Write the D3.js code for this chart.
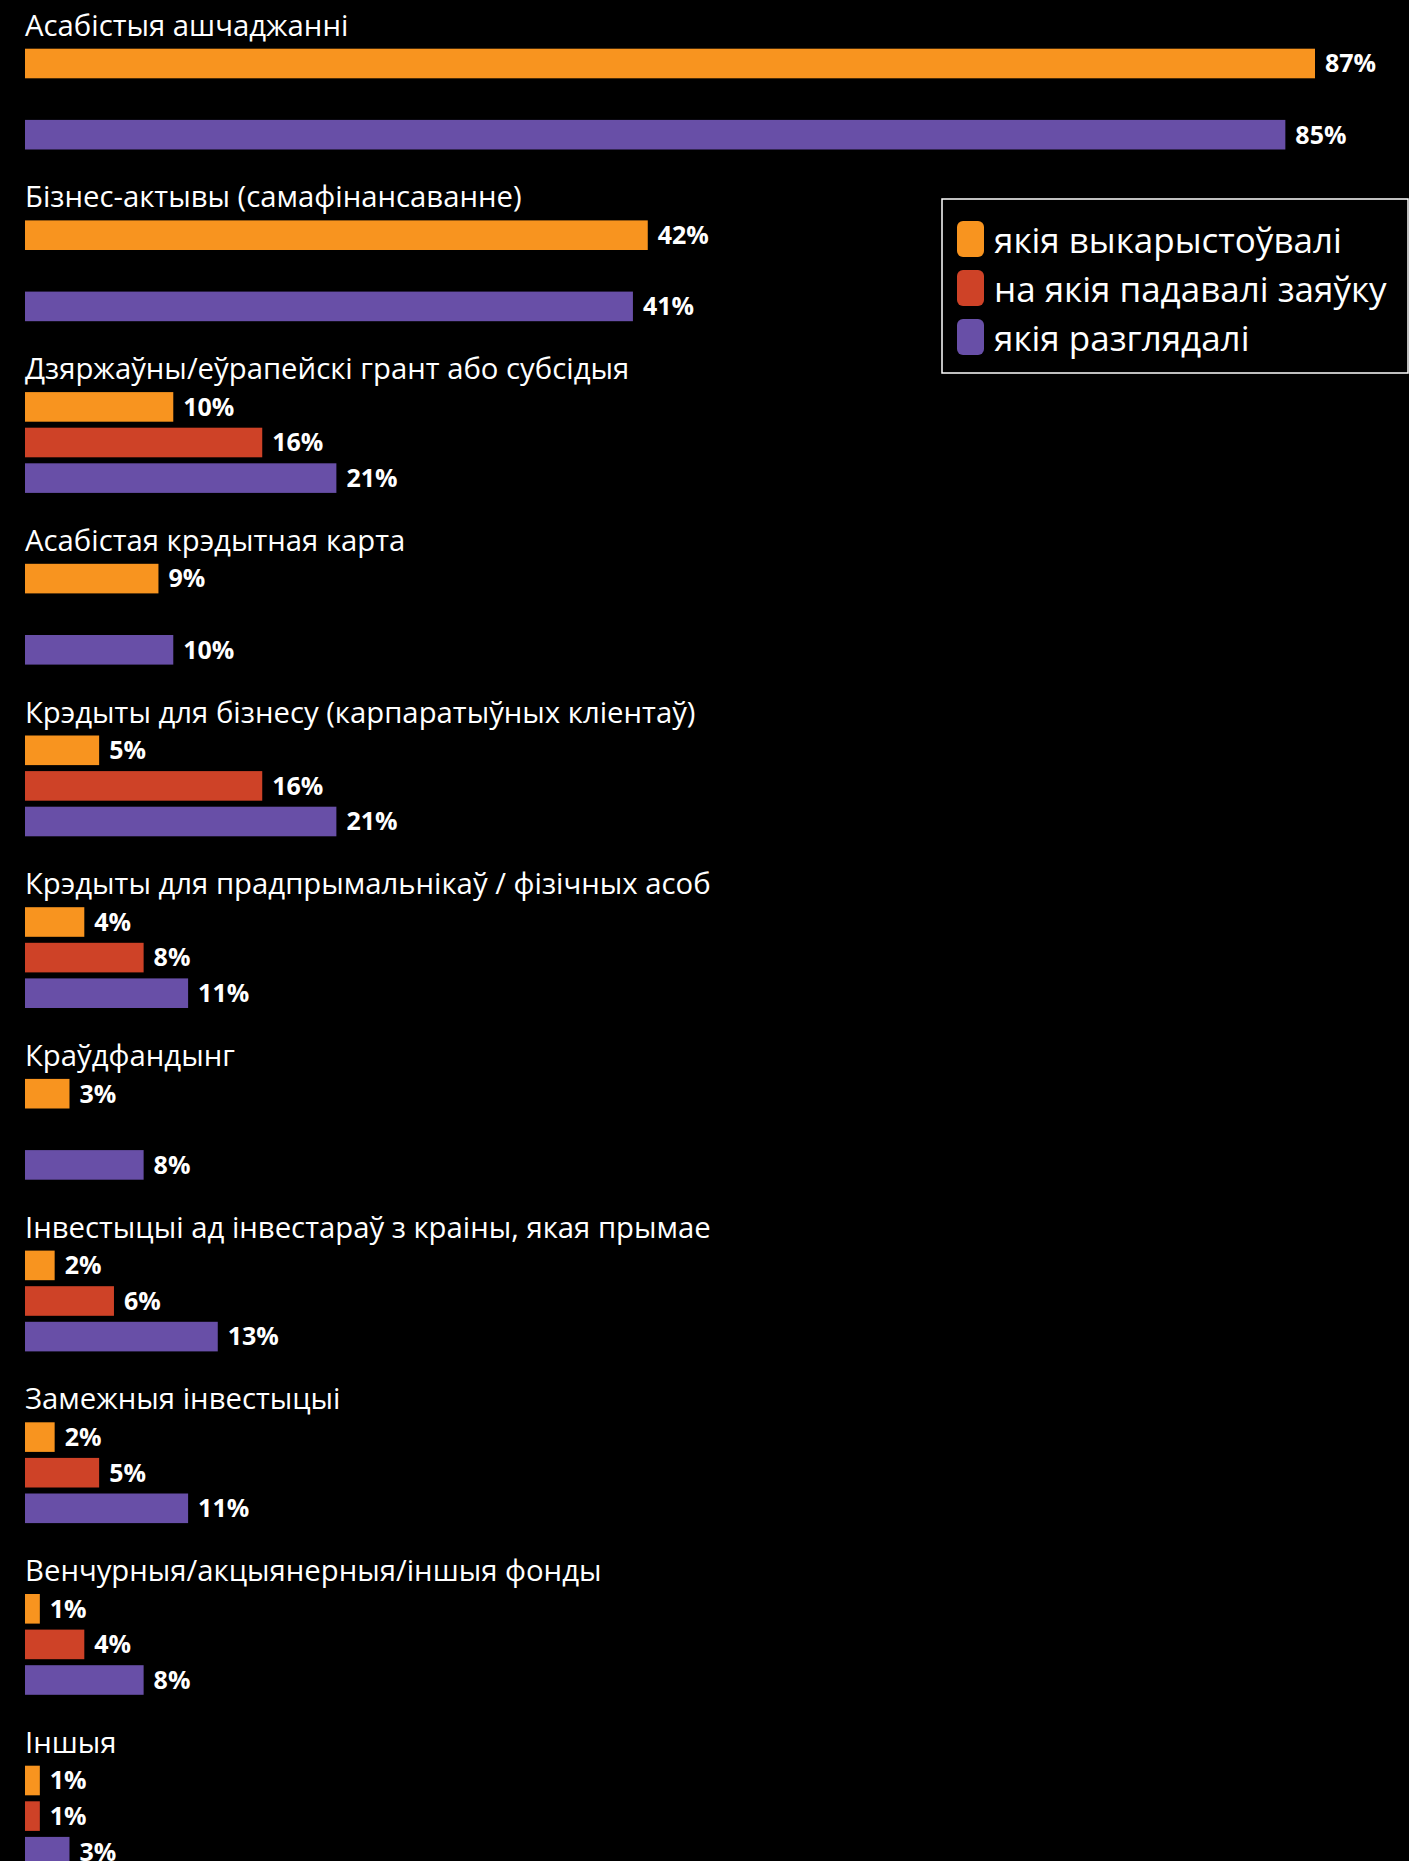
<!DOCTYPE html>
<html>
<head>
<meta charset="utf-8">
<script src="https://cdn.jsdelivr.net/npm/d3@7"></script>
<style>
  html, body { margin: 0; padding: 0; background: #000; }
  svg { display: block; }
</style>
</head>
<body>
<script>
const categories = [
  "Асабістыя ашчаджанні",
  "Бізнес-актывы (самафінансаванне)",
  "Дзяржаўны/еўрапейскі грант або субсідыя",
  "Асабістая крэдытная карта",
  "Крэдыты для бізнесу (карпаратыўных кліентаў)",
  "Крэдыты для прадпрымальнікаў / фізічных асоб",
  "Краўдфандынг",
  "Інвестыцыі ад інвестараў з краіны, якая прымае",
  "Замежныя інвестыцыі",
  "Венчурныя/акцыянерныя/іншыя фонды",
  "Іншыя"
];
const seriesNames = ["якія выкарыстоўвалі", "на якія падавалі заяўку", "якія разглядалі"];
const usedValues       = [87, 42, 10, 9, 5, 4, 3, 2, 2, 1, 1];
const appliedValues    = [null, null, 16, null, 16, 8, null, 6, 5, 4, 1];
const consideredValues = [85, 41, 21, 10, 21, 11, 8, 13, 11, 8, 3];
const seriesColors = ["#F8941F", "#CE4227", "#684FA7"];

const W = 1409, H = 1861;
const svg = d3.select("body").append("svg").attr("width", W).attr("height", H);
svg.append("rect").attr("width", W).attr("height", H).attr("fill", "#000");

const seriesValues = [usedValues, appliedValues, consideredValues];
const rows = [];
categories.forEach((c, i) => {
  seriesValues.forEach((vals, s) => {
    if (vals[i] != null) rows.push({cat: c, series: seriesNames[s], s, value: vals[i]});
  });
});

const groupStep = 171.7, groupTop = 48.7;
const y0 = d3.scaleBand().domain(categories)
  .range([groupTop, groupTop + groupStep * categories.length]).paddingInner(0).paddingOuter(0);
const slot = 35.6, gap = 6;
const y1 = d3.scaleBand().domain(seriesNames).range([0, 3 * slot - gap]).paddingInner(gap / slot).paddingOuter(0);
const x = d3.scaleLinear().domain([0, 87]).range([25, 1315]);

const font = "'Open Sans', 'Noto Sans', sans-serif";

// category labels
svg.append("g").selectAll("text").data(categories).join("text")
  .attr("x", 25)
  .attr("y", d => y0(d) - 13)
  .attr("fill", "#fff")
  .attr("font-family", font)
  .attr("font-size", 29.3)
  .text(d => d);

// bars
svg.append("g").selectAll("rect").data(rows).join("rect")
  .attr("x", x(0))
  .attr("y", d => y0(d.cat) + y1(d.series))
  .attr("width", d => x(d.value) - x(0))
  .attr("height", y1.bandwidth())
  .attr("fill", d => seriesColors[d.s]);

// value labels
svg.append("g").selectAll("text").data(rows).join("text")
  .attr("x", d => x(d.value) + 10)
  .attr("y", d => y0(d.cat) + y1(d.series) + y1.bandwidth() / 2 + 8.8)
  .attr("fill", "#fff")
  .attr("font-family", font)
  .attr("font-weight", 700)
  .attr("font-size", 25)
  .text(d => d.value + "%");

// legend
const lg = svg.append("g");
lg.append("rect").attr("x", 942).attr("y", 199).attr("width", 466).attr("height", 174)
  .attr("fill", "#000").attr("stroke", "#fff").attr("stroke-width", 1.5);
const ly = d3.scaleBand().domain(seriesNames).range([221, 221 + 3 * 49]);
const li = lg.selectAll("g.item").data(seriesNames).join("g").attr("class", "item");
li.append("rect").attr("x", 957).attr("y", d => ly(d)).attr("width", 27).attr("height", 36)
  .attr("rx", 6).attr("fill", (d, i) => seriesColors[i]);
li.append("text").attr("x", 994).attr("y", d => ly(d) + 32)
  .attr("fill", "#fff").attr("font-family", font).attr("font-size", 35)
  .text(d => d);
</script>
</body>
</html>
